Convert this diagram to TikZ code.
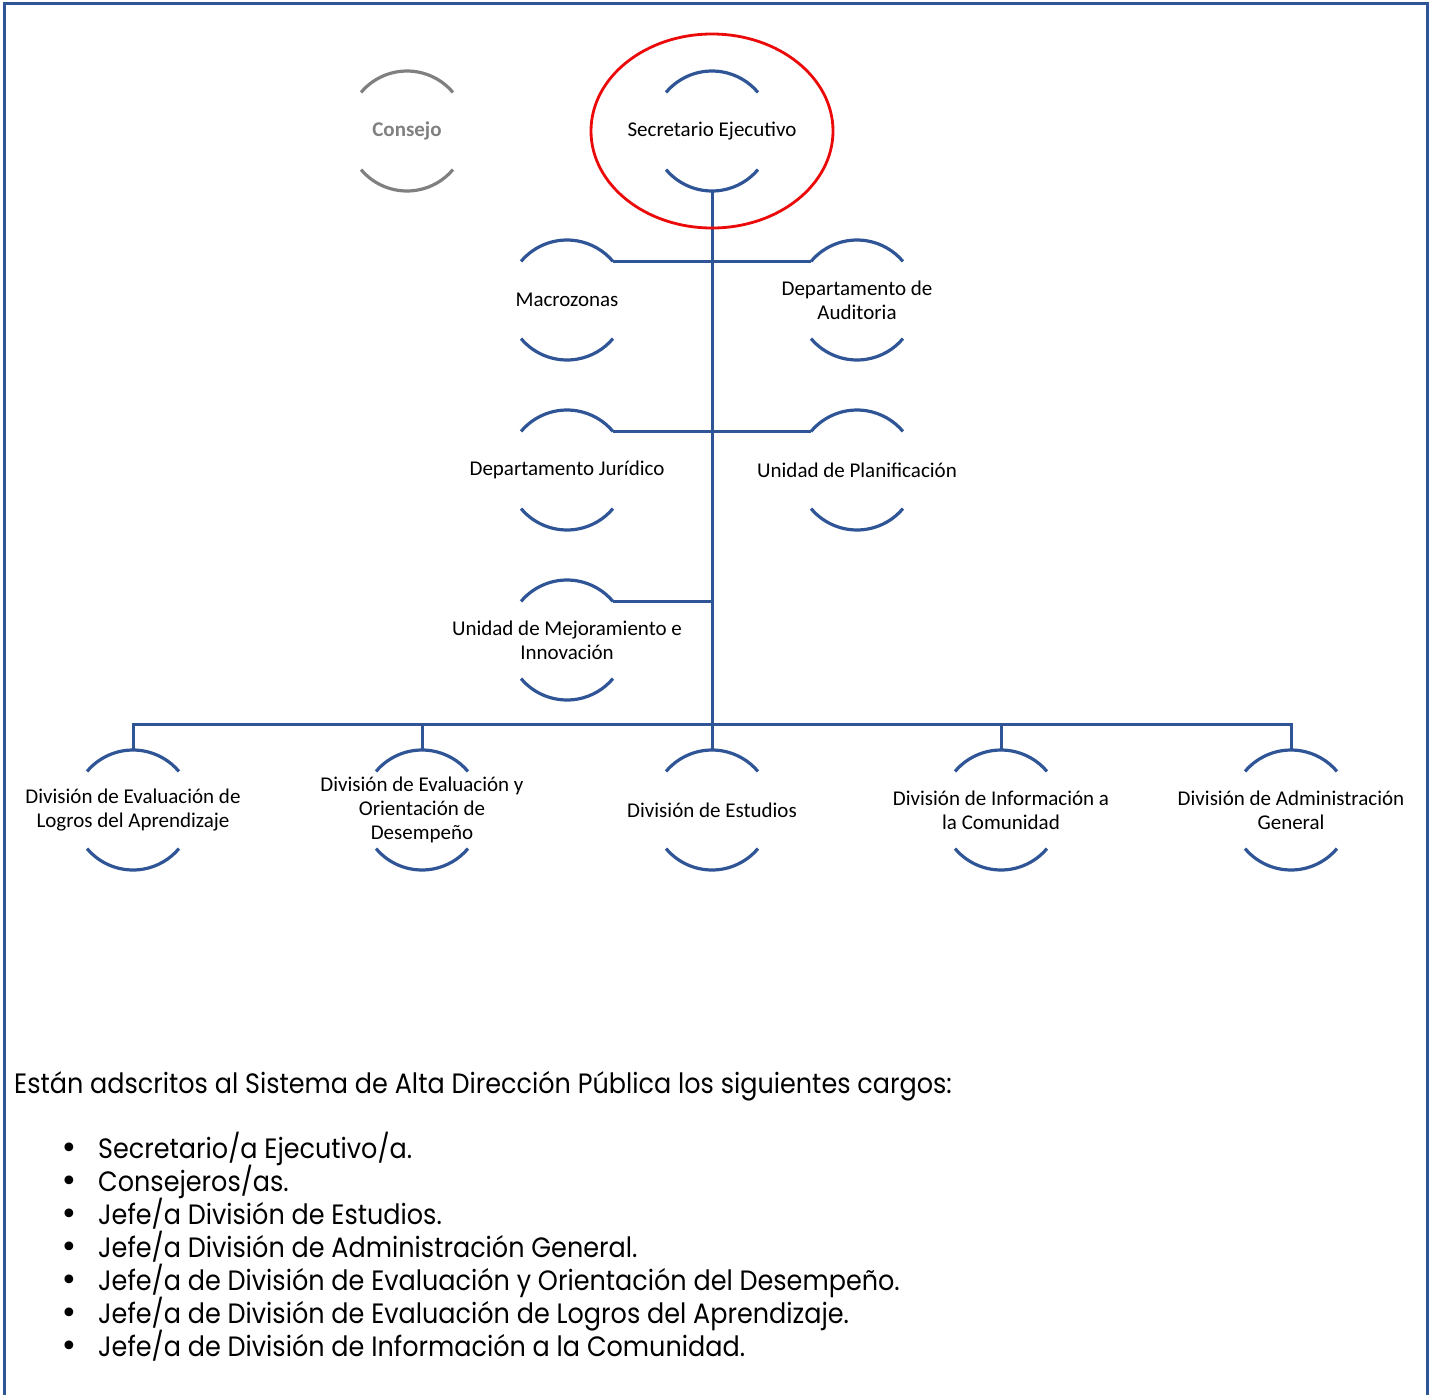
\documentclass[tikz,border=0pt]{standalone}
\usepackage{fontspec}
\usepackage{tikz}
\usetikzlibrary{positioning,calc}
\newfontfamily\calibri{Carlito}
\newfontfamily\gothic[FakeStretch=0.91]{Poppins}
\newfontfamily\dejavu{DejaVu Sans}
\definecolor{azul}{RGB}{47,85,151}
\definecolor{gris}{RGB}{128,128,128}
\definecolor{rojo}{RGB}{235,10,10}

\tikzset{
  unidad/.style={align=center,inner sep=0pt,font=\calibri\fontsize{21}{24}\selectfont},
  arco/.style={azul,line width=3.2pt},
  enlace/.style={azul,line width=3pt},
  cargos/.style={inner sep=0pt,font=\gothic\fontsize{28}{33}\selectfont}
}

\begin{document}
\begin{tikzpicture}[x=1pt,y=1pt]
            \useasboundingbox (0,0) rectangle (1432,-1395);
            % marco
            \draw[azul,line width=3pt] (4.5,-1395) -- (4.5,-3.5) -- (1427,-3.5) -- (1427,-1395);

            \node[unidad,font=\calibri\bfseries\fontsize{21}{24}\selectfont,text=gris] (consejo) at (407,-131) {Consejo};
            \node[unidad] (sec) at (712,-131) {Secretario Ejecutivo};
            \node[unidad] (macro) at (567,-300) {Macrozonas};
            \node[unidad] (audit) at (857,-300) {Departamento de\\Auditoria};
            \node[unidad] (jur) at (567,-470) {Departamento Jurídico};
            \node[unidad] (plan) at (857,-470) {Unidad de Planificación};
            \node[unidad] (mejora) at (567,-640) {Unidad de Mejoramiento e\\Innovación};
            \node[unidad] (dela) at (133,-810) {División de Evaluación de\\Logros del Aprendizaje};
            \node[unidad] (deod) at (422,-810) {División de Evaluación y\\Orientación de\\Desempeño};
            \node[unidad] (dest) at (712,-810) {División de Estudios};
            \node[unidad] (dinf) at (1001,-810) {División de Información a\\la Comunidad};
            \node[unidad] (dadm) at (1291,-810) {División de Administración\\General};
            \coordinate (bus) at (712,-724);

            % arcos
            \foreach \n in {sec,macro,audit,jur,plan,mejora,dela,deod,dest,dinf,dadm}{
                \draw[arco] ([shift={(140:60)}]\n.center) arc (140:40:60);
                \draw[arco] ([shift={(-140:60)}]\n.center) arc (-140:-40:60);
            }
            \draw[arco,gris] ([shift={(140:60)}]consejo.center) arc (140:40:60);
            \draw[arco,gris] ([shift={(-140:60)}]consejo.center) arc (-140:-40:60);

            % lineas
            \draw[enlace] ([yshift=-60pt]sec.center) -- (bus);
            \draw[enlace] ([shift={(40:60)}]macro.center) -- ([shift={(140:60)}]audit.center);
            \draw[enlace] ([shift={(40:60)}]jur.center) -- ([shift={(140:60)}]plan.center);
            \draw[enlace] ([shift={(40:60)}]mejora.center) coordinate (m) -- (m -| bus);
            \draw[enlace] ([yshift=60pt]dela.center) |- (bus) -| ([yshift=60pt]dadm.center);
            \foreach \n in {deod,dest,dinf}
                \draw[enlace] ([yshift=60pt]\n.center) -- (\n.center |- bus);

            \draw[rojo,line width=2.8pt] (sec.center) ellipse (121 and 97);

            % texto
            \node[cargos,anchor=base west] (intro) at (14,-1093) {Están adscritos al Sistema de Alta Dirección Pública los siguientes cargos:};
            \foreach \t [count=\i] in {Secretario/a Ejecutivo/a.,
                                       Consejeros/as.,
                                       Jefe/a División de Estudios.,
                                       Jefe/a División de Administración General.,
                                       Jefe/a de División de Evaluación y Orientación del Desempeño.,
                                       Jefe/a de División de Evaluación de Logros del Aprendizaje.,
                                       Jefe/a de División de Información a la Comunidad.}
                \node[cargos,anchor=base west] (cargo\i) at (98,-1158-33*\i+33) {\llap{{\dejavu\fontsize{30}{33}\selectfont •}\hspace{20pt}}\t};
        \end{tikzpicture}
\end{document}
